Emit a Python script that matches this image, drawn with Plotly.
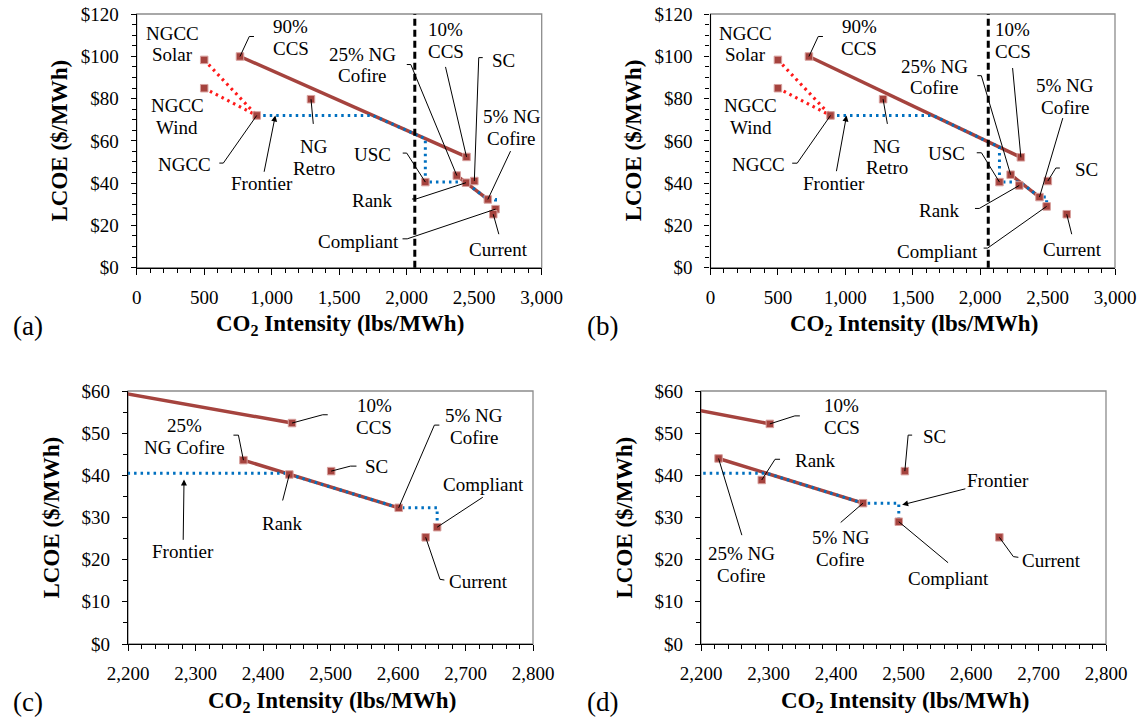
import plotly.graph_objects as go

FONT = "Liberation Serif, Times New Roman, Times, serif"
W, H = 1140, 717

# ---------------- data ----------------
names = ["NGCC Solar", "NGCC Wind", "NGCC", "90% CCS", "NG Retro", "10% CCS", "USC",
         "25% NG Cofire", "Rank", "SC", "5% NG Cofire", "Compliant", "Current"]
# scenario shown in panels (a) and (c)
a_x = [500, 500, 889, 765, 1291, 2443, 2138, 2371, 2439, 2501, 2601, 2658, 2641]
a_y = [98.3, 84.9, 72.0, 99.9, 79.7, 52.4, 40.5, 43.6, 40.2, 41.0, 32.3, 27.7, 25.3]
# scenario shown in panels (b) and (d)
b_x = [500, 500, 890, 730, 1280, 2302, 2143, 2226, 2290, 2502, 2440, 2493, 2642]
b_y = [98.3, 84.9, 72.0, 99.9, 79.7, 52.2, 40.5, 44.0, 38.9, 41.0, 33.4, 29.0, 25.3]
# cost frontier
a_front_x = [889, 1750, 2138, 2138, 2433, 2601, 2658, 2658]
a_front_y = [72.0, 72.0, 61.0, 40.5, 40.5, 32.3, 32.3, 27.7]
b_front_x = [890, 1650, 2143, 2143, 2297, 2440, 2493, 2493]
b_front_y = [72.0, 72.0, 57.0, 40.5, 40.5, 33.4, 33.4, 29.0]
std_limit = 2060

full_xticks = [0, 500, 1000, 1500, 2000, 2500, 3000]
full_yticks = [0, 20, 40, 60, 80, 100, 120]
zoom_xticks = [2200, 2300, 2400, 2500, 2600, 2700, 2800]
zoom_yticks = [0, 10, 20, 30, 40, 50, 60]

RED_DARK = "#A5433E"
RED_DOT = "#FF1A1A"
BLUE = "#0070C0"

# label layout: lines, text-centre offset (px, screen), leader polyline offsets (px, screen)
lab_a = {
    "NGCC Solar": (["NGCC", "Solar"], -32, -16, []),
    "NGCC Wind": (["NGCC", "Wind"], -27, 28, []),
    "90% CCS": (["90%", "CCS"], 51, -19, [(9.3, -20), (14, -20)]),
    "NG Retro": (["NG", "Retro"], 3, 58, [(2.3, 24.7)]),
    "NGCC": (["NGCC"], -72, 49, [(-33.4, 47.6), (-37.4, 47.6)]),
    "10% CCS": (["10%", "CCS"], -21, -116.4, [(-21, -90)]),
    "SC": (["SC"], 29.4, -120.7, [(4.4, -123.4), (8.4, -123.4)]),
    "25% NG Cofire": (["25% NG", "Cofire"], -94.3, -110.5, [(-46, -111), (-50, -111)]),
    "5% NG Cofire": (["5% NG", "Cofire"], 23.7, -72.2, [(22.7, -48.3)]),
    "USC": (["USC"], -53, -28, [(-18.6, -29), (-22.6, -29)]),
    "Rank": (["Rank"], -93.4, 17.3, [(-50, 16.3), (-54, 16.3)]),
    "Compliant": (["Compliant"], -136.7, 32.4, [(-88.3, 29.7), (-93, 29.7)]),
    "Current": (["Current"], 5.6, 35.7, [(5.6, 20)]),
}
lab_b = {
    "NGCC Solar": (["NGCC", "Solar"], -32.7, -15.8, []),
    "NGCC Wind": (["NGCC", "Wind"], -27, 28.3, []),
    "90% CCS": (["90%", "CCS"], 50.3, -19.2, [(9.3, -20), (14, -20)]),
    "NG Retro": (["NG", "Retro"], 4.3, 57.7, [(4.3, 24.7)]),
    "NGCC": (["NGCC"], -71.7, 48.7, [(-33.3, 47.7), (-38.3, 47.7)]),
    "10% CCS": (["10%", "CCS"], -8, -116.5, [(-8.3, -89.3)]),
    "25% NG Cofire": (["25% NG", "Cofire"], -76.3, -97.8, [(-29.3, -99), (-33.3, -99)]),
    "5% NG Cofire": (["5% NG", "Cofire"], 25.7, -100.7, [(23.3, -79)]),
    "SC": (["SC"], 38.3, -11.7, [(8, -13), (12, -13)]),
    "USC": (["USC"], -52.7, -28.3, [(-18, -29.3), (-22.7, -29.3)]),
    "Rank": (["Rank"], -80, 24.7, [(-40, 23), (-44.3, 23)]),
    "Compliant": (["Compliant"], -109, 45, [(-59, 41.7), (-63, 41.7)]),
    "Current": (["Current"], 5.7, 35.7, [(5, 20)]),
}
lab_c = {
    "10% CCS": (["10%", "CCS"], 82.3, -6.8, [(30.7, -8.3), (35.7, -8.3)]),
    "25% NG Cofire": (["25%", "NG Cofire"], -59.3, -23.8, [(-5, -25), (-10, -25)]),
    "SC": (["SC"], 45, -4.3, [(19.3, -5), (25.3, -5)]),
    "Rank": (["Rank"], -6.7, 49.3, [(-6.7, 26)]),
    "5% NG Cofire": (["5% NG", "Cofire"], 75.7, -81, [(35.7, -82.7), (40.7, -82.7)]),
    "Compliant": (["Compliant"], 46.3, -43, [(45.7, -30)]),
    "Current": (["Current"], 53, 44.3, [(14.3, 42), (18.7, 42.7)]),
}
lab_d = {
    "10% CCS": (["10%", "CCS"], 72, -7.5, [(25, -8), (30, -8)]),
    "Rank": (["Rank"], 53.3, -19, [(13.3, -20.7), (18.3, -20.7)]),
    "SC": (["SC"], 29.3, -35, [(3.3, -36), (7.3, -36)]),
    "25% NG Cofire": (["25% NG", "Cofire"], 23.3, 106.2, [(23.3, 76.7)]),
    "5% NG Cofire": (["5% NG", "Cofire"], -22.3, 45, [(-22.3, 19.3)]),
    "Compliant": (["Compliant"], 49.3, 56.7, [(49.3, 41)]),
    "Current": (["Current"], 52.3, 23.3, [(14, 19.3), (19, 20)]),
}

panels = [
    dict(tag="(a)", n="", xs=a_x, ys=a_y, fx=a_front_x, fy=a_front_y, lab=lab_a,
         front=(1027, 72, -13.6, 68.3), px=(136.7, 541.7), py=(14, 267.7), full=True),
    dict(tag="(b)", n="2", xs=b_x, ys=b_y, fx=b_front_x, fy=b_front_y, lab=lab_b,
         front=(1009, 72, -12.3, 67.7), px=(710.5, 1115), py=(14, 267.7), full=True),
    dict(tag="(c)", n="3", xs=a_x, ys=a_y, fx=a_front_x, fy=a_front_y, lab=lab_c,
         front=(2283, 39.0, -1, 72.3), px=(128, 533), py=(391, 644), full=False),
    dict(tag="(d)", n="4", xs=b_x, ys=b_y, fx=b_front_x, fy=b_front_y, lab=lab_d,
         front=(2498, 33.0, 95.7, -24.3), px=(701, 1106), py=(391, 644), full=False),
]


def pxx(v):  # screen px -> paper fraction
    return v / W


def pxy(v):
    return 1 - v / H


fig = go.Figure()
shapes = []
annotations = []
LINE_H = 21.7


def idx(nm):
    return names.index(nm)


for p in panels:
    xa, ya = "x" + p["n"], "y" + p["n"]
    xs, ys = p["xs"], p["ys"]

    def seg(a, b):
        return [xs[idx(a)], xs[idx(b)]], [ys[idx(a)], ys[idx(b)]]

    common = dict(xaxis=xa, yaxis=ya, showlegend=False, hoverinfo="skip")
    for a in ("NGCC Solar", "NGCC Wind"):
        sx, sy = seg(a, "NGCC")
        fig.add_trace(go.Scatter(x=sx, y=sy, mode="lines",
                                 line=dict(color=RED_DOT, width=3.2, dash="2.5px,4px"), **common))
    for a, b in (("90% CCS", "10% CCS"), ("25% NG Cofire", "5% NG Cofire")):
        sx, sy = seg(a, b)
        fig.add_trace(go.Scatter(x=sx, y=sy, mode="lines",
                                 line=dict(color=RED_DARK, width=3.5), **common))
    fig.add_trace(go.Scatter(x=p["fx"], y=p["fy"], mode="lines",
                             line=dict(color=BLUE, width=3, dash="2.5px,4px"), **common))
    fig.add_trace(go.Scatter(x=xs, y=ys, mode="markers", text=names,
                             marker=dict(symbol="square", size=7.5, color=RED_DARK,
                                         line=dict(color="#D8A19E", width=1)), **common))

    # axes
    x0, x1 = p["px"]
    y0, y1 = p["py"]
    xdom = [pxx(x0), pxx(x1)]
    ydom = [pxy(y1), pxy(y0)]
    if p["full"]:
        xr, xt, xm = [0, 3000], full_xticks, 100
        yr, yt, ym = [0, 120], full_yticks, 5
    else:
        xr, xt, xm = [2200, 2800], zoom_xticks, 20
        yr, yt, ym = [0, 60], zoom_yticks, 5
    axcommon = dict(showgrid=False, zeroline=False, showline=True, linecolor="black",
                    linewidth=1.3, ticks="outside", tickcolor="black", tickwidth=1.2,
                    automargin=False, ticklabeloverflow="allow",
                    tickfont=dict(family=FONT, size=19, color="black"))
    fig.layout["xaxis" + p["n"]] = dict(domain=xdom, range=xr, tickvals=xt,
                                        ticktext=[f"{v:,}" for v in xt],
                                        anchor=ya, ticklen=6, ticklabelstandoff=6,
                                        minor=dict(dtick=xm, ticks="outside", ticklen=4,
                                                   tickcolor="black", tickwidth=1),
                                        **axcommon)
    fig.layout["yaxis" + p["n"]] = dict(domain=ydom, range=yr, tickvals=yt,
                                        ticktext=[f"${v}" for v in yt],
                                        anchor=xa, ticklen=5, ticklabelstandoff=8,
                                        minor=dict(dtick=ym, ticks="outside", ticklen=4,
                                                   tickcolor="black", tickwidth=1),
                                        **axcommon)
    # plot-area frame
    shapes.append(dict(type="rect", xref=xa + " domain", yref=ya + " domain", x0=0, x1=1,
                       y0=0, y1=1, line=dict(color="#8C8C8C", width=1.3), layer="below"))
    if p["full"]:
        shapes.append(dict(type="line", xref=xa, yref=ya + " domain", x0=std_limit, x1=std_limit,
                           y0=0, y1=1, line=dict(color="black", width=3, dash="7px,4px")))

    # labels + leader lines
    for nm, (lines, dx, dy, lead) in p["lab"].items():
        px_, py_ = xs[idx(nm)], ys[idx(nm)]
        nl = len(lines)
        for i, t in enumerate(lines):
            off = dy + (i - (nl - 1) / 2) * LINE_H
            annotations.append(dict(x=px_, y=py_, xref=xa, yref=ya, text=t, showarrow=False,
                                    xanchor="center", yanchor="middle", xshift=dx, yshift=-off,
                                    font=dict(family=FONT, size=19, color="black")))
        if lead:
            path = "M0,0 " + " ".join(f"L{lx},{-ly}" for lx, ly in lead)
            shapes.append(dict(type="path", xref=xa, yref=ya, xsizemode="pixel",
                               ysizemode="pixel", xanchor=px_, yanchor=py_, path=path,
                               line=dict(color="black", width=1)))
    hx, hy, tx, ty = p["front"]
    annotations.append(dict(x=hx, y=hy, xref=xa, yref=ya, text="Frontier", showarrow=True,
                            arrowhead=2, arrowsize=1.2, arrowwidth=1, arrowcolor="black",
                            ax=tx, ay=ty, standoff=0,
                            font=dict(family=FONT, size=19, color="black")))

    # titles and panel tag
    cx = (x0 + x1) / 2
    annotations.append(dict(x=pxx(cx + 1), y=pxy(y1 + 57.5), xref="paper", yref="paper",
                            text="<b>CO<sub>2</sub> Intensity (lbs/MWh)</b>", showarrow=False,
                            xanchor="center", yanchor="middle",
                            font=dict(family=FONT, size=23, color="black")))
    annotations.append(dict(x=pxx(x0 - 77), y=pxy((y0 + y1) / 2), xref="paper",
                            yref="paper", text="<b>LCOE ($/MWh)</b>", showarrow=False,
                            textangle=-90, xanchor="center", yanchor="middle",
                            font=dict(family=FONT, size=23, color="black")))
    tagx = 28 if x0 < 300 else 602
    annotations.append(dict(x=pxx(tagx), y=pxy(y1 + 58), xref="paper", yref="paper",
                            text=p["tag"], showarrow=False, xanchor="center", yanchor="middle",
                            font=dict(family=FONT, size=27, color="black")))

fig.update_layout(template="none", width=W, height=H, margin=dict(l=0, r=0, t=0, b=0, pad=0),
                  font=dict(family=FONT, size=19, color="black"),
                  paper_bgcolor="white", plot_bgcolor="white",
                  shapes=shapes, annotations=annotations, showlegend=False)
fig.write_html("out.html", config={"displayModeBar": False},
               post_script="document.body.style.margin = '0px';")
